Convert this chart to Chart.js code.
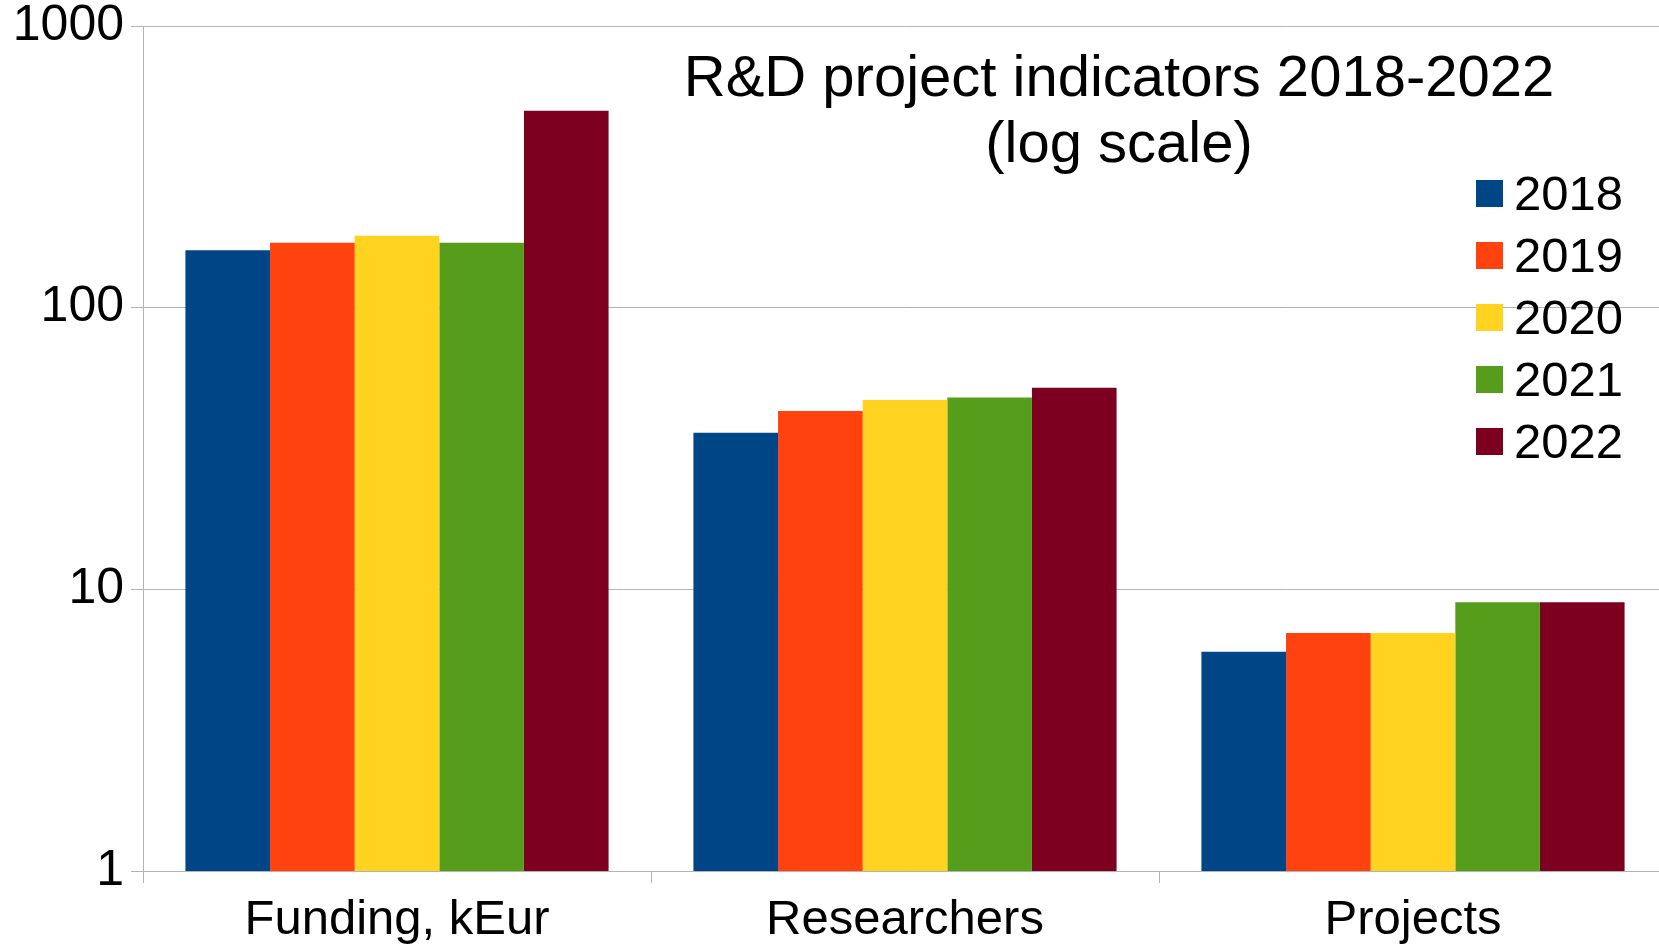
<!DOCTYPE html>
<html>
<head>
<meta charset="utf-8">
<script src="https://cdn.jsdelivr.net/npm/chart.js@4/dist/chart.umd.min.js"></script>
<style>
  html, body { margin: 0; padding: 0; background: #fff; overflow: hidden; }
</style>
</head>
<body>
<canvas id="rd-chart" width="1668" height="946"></canvas>
<script>
const categories = ['Funding, kEur', 'Researchers', 'Projects'];
const years = ['2018', '2019', '2020', '2021', '2022'];
const values2018 = [160, 36, 6];
const values2019 = [170, 43, 7];
const values2020 = [180, 47, 7];
const values2021 = [170, 48, 9];
const values2022 = [500, 52, 9];
const yTicks = [1, 10, 100, 1000];
const colors = ['#004586', '#ff420e', '#ffd320', '#579d1c', '#7e0021'];
const titleLines = ['R&D project indicators 2018-2022', '(log scale)'];

const FONT = '"Liberation Sans", Arial, sans-serif';

// title + legend are drawn inside the plot, like the original
const overlay = {
    id: 'overlay',
    afterDraw(chart) {
        const ctx = chart.ctx;
        ctx.save();
        ctx.fillStyle = '#000';
        ctx.textAlign = 'center';
        ctx.textBaseline = 'middle';
        ctx.font = '58px ' + FONT;
        titleLines.forEach((line, i) => ctx.fillText(line, 1119, 80 + i * 66));

        ctx.textAlign = 'left';
        ctx.font = '49px ' + FONT;
        chart.data.datasets.forEach((ds, i) => {
            const y = 194 + i * 62;
            ctx.fillStyle = ds.backgroundColor;
            ctx.fillRect(1476, y - 14, 27, 27);
            ctx.fillStyle = '#000';
            ctx.fillText(ds.label, 1514, y + 2);
        });
        ctx.restore();
    }
};

const series = [values2018, values2019, values2020, values2021, values2022];

new Chart(document.getElementById('rd-chart').getContext('2d'), {
    type: 'bar',
    data: {
        labels: categories,
        datasets: series.map((data, i) => ({
            label: years[i],
            data: data,
            backgroundColor: colors[i],
            borderWidth: 0,
            categoryPercentage: 0.833,
            barPercentage: 1.0
        }))
    },
    options: {
        responsive: false,
        animation: false,
        layout: { padding: { top: 26, right: 1, left: 0, bottom: 0 } },
        plugins: {
            legend: { display: false },
            title: { display: false },
            tooltip: { enabled: false }
        },
        scales: {
            x: {
                grid: {
                    display: true,
                    drawOnChartArea: false,
                    drawTicks: true,
                    tickLength: 12,
                    color: '#b3b3b3',
                    offset: true
                },
                border: { color: '#b3b3b3' },
                ticks: {
                    color: '#000',
                    font: { family: FONT, size: 49 },
                    padding: 8
                },
                afterFit(scale) { scale.height = 75; }
            },
            y: {
                type: 'logarithmic',
                min: 1,
                max: 1000,
                afterBuildTicks(scale) {
                    scale.ticks = yTicks.map(v => ({ value: v }));
                },
                grid: {
                    color: '#b3b3b3',
                    tickLength: 12
                },
                border: { color: '#b3b3b3' },
                ticks: {
                    color: '#000',
                    font: { family: FONT, size: 50 },
                    padding: 7,
                    callback: v => String(v)
                },
                afterFit(scale) {
                    scale.width = 143;
                    scale.paddingTop = 0;
                    scale.paddingBottom = 0;
                }
            }
        }
    },
    plugins: [overlay]
});
</script>
</body>
</html>
